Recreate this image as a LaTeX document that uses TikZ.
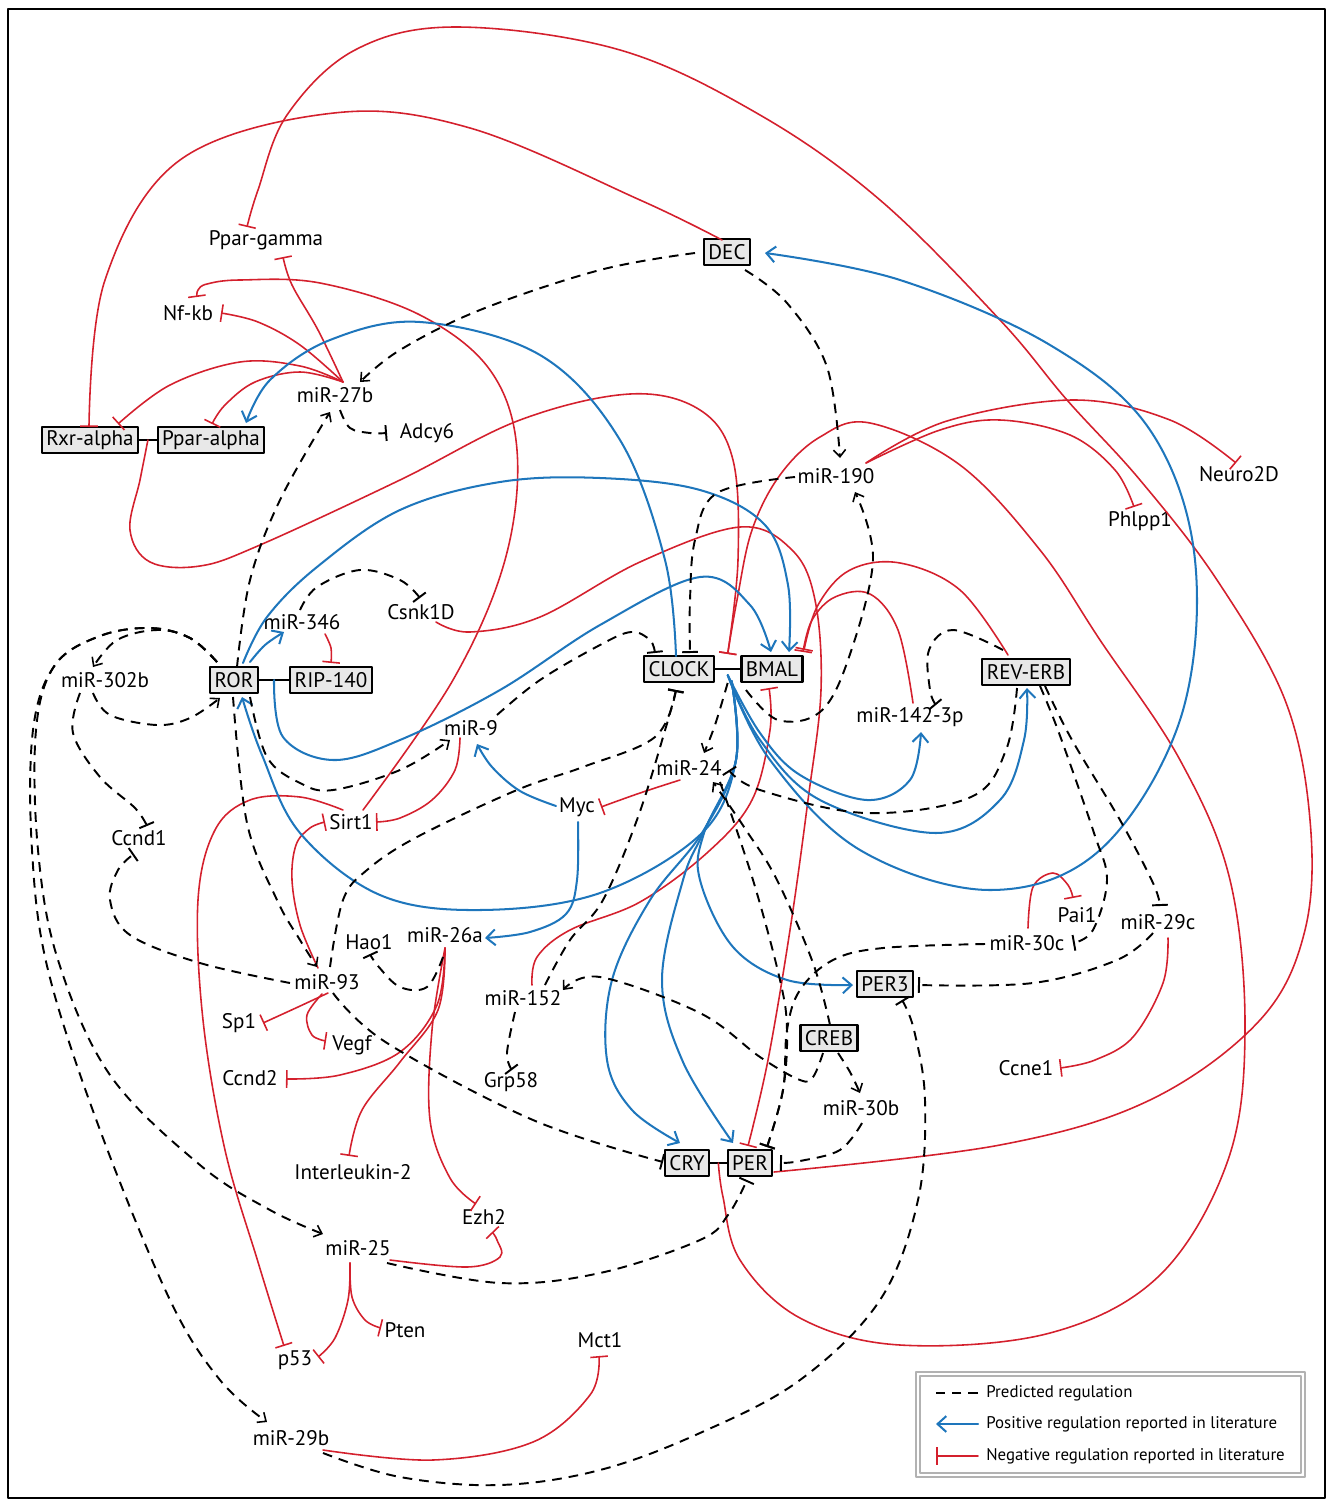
\documentclass[tikz,border=0pt]{standalone}
\usepackage{fontspec}
\setmainfont{PT Sans}
\usepackage{xcolor}
\usetikzlibrary{calc,arrows.meta}
\definecolor{posblue}{RGB}{30,118,188}
\definecolor{negred}{RGB}{212,32,45}
\definecolor{boxgray}{RGB}{232,232,232}

\begin{document}
\begin{tikzpicture}[
    x=0.2mm,y=-0.2mm,
    line cap=round,line join=round,
    every node/.style={font=\fontsize{12}{14}\selectfont, inner sep=1pt},
    gene/.style={draw, fill=boxgray, line width=1.2pt, inner xsep=2.5pt, inner ysep=2pt, minimum height=14.5pt},
    smoothed/.style={smooth, tension=0.6},
    predline/.style={black, line width=1.1pt, line cap=butt, dash pattern=on 5.5pt off 4pt},
    predarr/.style={predline, -{Straight Barb[length=4pt,width=7pt,line width=0.9pt]}},
    predtee/.style={predline, -{Bar[width=9pt,line width=1.1pt]}},
    posreg/.style={posblue, line width=1.15pt, -{Straight Barb[length=5pt,width=9pt]}},
    negreg/.style={negred, line width=0.9pt, -{Bar[width=10pt]}},
    link/.style={black, line width=1.3pt}
  ]
  \useasboundingbox (0,0) rectangle (1327,1500);
  % ---- frame
  \draw[line width=1.3pt] (8,9) rectangle (1325,1498);

  % ---- boxed genes
  \node[gene] (rxra)   at (90,440)   {Rxr-alpha};
  \node[gene] (ppara)  at (211,440)  {Ppar-alpha};
  \node[gene] (dec)    at (727,252)  {DEC};
  \node[gene] (ror)    at (234,680)  {ROR};
  \node[gene] (rip)    at (331,680)  {RIP-140};
  \node[gene] (clock)  at (679,669)  {CLOCK};
  \node[gene] (bmal)   at (772,669)  {BMAL};
  \node[gene] (reverb) at (1026,672) {REV-ERB};
  \node[gene] (per3)   at (885,984)  {PER3};
  \node[gene] (creb)   at (829,1038) {CREB};
  \node[gene] (cry)    at (687,1163) {CRY};
  \node[gene] (per)    at (750,1163) {PER};

  % ---- plain labels (miRNAs and targets)
  \node (pparg)   at (266,240)  {Ppar-gamma};
  \node (nfkb)    at (188,313)  {Nf-kb};
  \node (mir27b)  at (335,395)  {miR-27b};
  \node (adcy6)   at (427,433)  {Adcy6};
  \node (mir190)  at (836,476)  {miR-190};
  \node (neuro)   at (1239,474) {Neuro2D};
  \node (phlpp)   at (1140,521) {Phlpp1};
  \node (csnk)    at (421,612)  {Csnk1D};
  \node (mir346)  at (302,622)  {miR-346};
  \node (mir302b) at (105,680)  {miR-302b};
  \node (mir142)  at (910,717)  {miR-142-3p};
  \node (mir9)    at (471,728)  {miR-9};
  \node (mir24)   at (689,768)  {miR-24};
  \node (myc)     at (577,807)  {Myc};
  \node (sirt)    at (351,822)  {Sirt1};
  \node (ccnd1)   at (139,838)  {Ccnd1};
  \node (pai)     at (1077,915) {Pai1};
  \node (mir29c)  at (1158,922) {miR-29c};
  \node (mir30c)  at (1027,943) {miR-30c};
  \node (hao)     at (369,942)  {Hao1};
  \node (mir26a)  at (445,935)  {miR-26a};
  \node (mir93)   at (327,982)  {miR-93};
  \node (mir152)  at (523,998)  {miR-152};
  \node (sp1)     at (239,1023) {Sp1};
  \node (vegf)    at (352,1045) {Vegf};
  \node (ccnd2)   at (250,1078) {Ccnd2};
  \node (grp)     at (511,1082) {Grp58};
  \node (ccne)    at (1026,1068) {Ccne1};
  \node (mir30b)  at (861,1108) {miR-30b};
  \node (il2)     at (353,1172) {Interleukin-2};
  \node (ezh)     at (484,1217) {Ezh2};
  \node (mir25)   at (358,1248) {miR-25};
  \node (pten)    at (405,1330) {Pten};
  \node (p53)     at (295,1360) {p53};
  \node (mct)     at (600,1340) {Mct1};
  \node (mir29b)  at (291,1438) {miR-29b};

  % ---- complexes
  \draw[link] (rxra.east) -- (ppara.west);
  \draw[link] (ror.east) -- (rip.west);
  \draw[link] (clock.east) -- (bmal.west);
  \draw[link] (cry.east) -- (per.west);

  % ---- negative regulation (literature)
  \draw[negreg] plot[smoothed] coordinates {($(dec)+(-5,-12)$) (640,200) (470,128) (334,113) (180,160) (105,280) ($(rxra)+(-1,-13)$)};
  \draw[negreg] plot[smoothed] coordinates {($(per)+(24,9)$) (1000,1145) (1150,1100) (1260,1020) (1305,930) (1310,820) (1285,700) (1217,580) (1140,480) (1067,400) (1000,320) (880,200) (760,115) (620,50) (456,27) (355,50) (287,115) (258,190) ($(pparg)+(-19,-13)$)};
  \draw[negreg] plot[smoothed] coordinates {($(cry.east)!0.5!(per.west)$) (723,1197) (740,1260) (800,1318) (900,1345) (1050,1333) (1160,1275) (1228,1160) (1245,1030) (1230,880) (1180,760) (1100,640) (1040,550) (960,465) (870,423) (820,437) (780,475) (752,530) (737,600) ($(clock.east)!0.5!(bmal.west)+(0,-15)$)};
  \draw[negreg] plot[smoothed] coordinates {($(rxra.east)!0.5!(ppara.west)$) (140,480) (130,530) (150,562) (200,566) (260,545) (400,480) (520,420) (630,394) (700,410) (733,460) (738,560) ($(clock.east)!0.5!(bmal.west)+(0,-15)$)};
  \draw[negreg] plot[smoothed] coordinates {($(mir142)+(3,-14)$) (898,630) (870,594) (835,597) (812,620) ($(bmal)+(31,-17)$)};
  \draw[negreg] plot[smoothed] coordinates {($(reverb)+(-18,-17)$) (960,590) (900,563) (850,570) (818,605) ($(bmal)+(32,-19)$)};
  \draw[negreg] plot[smoothed] coordinates {($(csnk)+(15,10)$) (470,632) (540,617) (640,562) (740,527) (792,550) (815,600) (821,690) (808,800) (790,930) (768,1060) ($(per)+(-2,-17)$)};
  \draw[negreg] plot[smoothed] coordinates {($(mir152)+(9,-13)$) (537,957) (570,930) (640,902) (708,852) (752,800) (770,730) ($(bmal)+(-3,19)$)};
  \draw[negreg] plot[smoothed] coordinates {($(mir27b)+(8,-13)$) (318,330) (292,285) ($(pparg)+(17,17)$)};
  \draw[negreg] plot[smoothed] coordinates {($(mir27b)+(8,-13)$) (300,345) (258,322) ($(nfkb)+(33,0)$)};
  \draw[negreg] plot[smoothed] coordinates {($(mir27b)+(8,-13)$) (300,366) (240,362) (170,385) ($(rxra)+(28,-16)$)};
  \draw[negreg] plot[smoothed] coordinates {($(mir27b)+(8,-13)$) (300,372) (255,382) (225,405) ($(ppara)+(1,-16)$)};
  \draw[negreg] plot[smoothed] coordinates {($(sirt)+(12,-12)$) (453,680) (505,560) (517,450) (490,370) (420,315) (320,283) (240,280) (207,284) (198,290) ($(nfkb)+(9,-16)$)};
  \draw[negreg] plot[smoothed] coordinates {($(mir9)+(-11,10)$) (455,770) (432,800) (400,818) ($(sirt)+(25,0)$)};
  \draw[negreg] plot[smoothed] coordinates {($(mir24)+(-9,12)$) (640,793) ($(myc)+(24,0)$)};
  \draw[negreg] plot[smoothed] coordinates {($(sirt)+(-8,-12)$) (300,797) (250,800) (215,830) (198,900) (203,1020) (225,1150) (258,1262) ($(p53)+(-11,-14)$)};
  \draw[negreg] plot[smoothed] coordinates {($(mir93)+(-9,-14)$) (300,925) (292,880) (296,845) (310,828) ($(sirt)+(-26,0)$)};
  \draw[negreg] plot[smoothed] coordinates {($(mir93)+(1,11)$) (298,1007) ($(sp1)+(24,0)$)};
  \draw[negreg] plot[smoothed] coordinates {($(mir93)+(-5,12)$) (307,1015) (312,1035) ($(vegf)+(-26,-4)$)};
  \draw[negreg] plot[smoothed] coordinates {($(mir26a)+(0,13)$) (437,1005) (400,1052) (340,1075) ($(ccnd2)+(36,1)$)};
  \draw[negreg] plot[smoothed] coordinates {($(mir26a)+(0,13)$) (438,1010) (400,1062) (362,1110) ($(il2)+(-4,-16)$)};
  \draw[negreg] plot[smoothed] coordinates {($(mir26a)+(0,13)$) (432,1030) (430,1120) (450,1178) ($(ezh)+(-8,-13)$)};
  \draw[negreg] plot[smoothed] coordinates {($(mir25)+(32,12)$) (467,1267) (500,1257) (497,1240) ($(ezh)+(8,15)$)};
  \draw[negreg] plot[smoothed] coordinates {($(mir25)+(-8,15)$) (352,1297) (365,1320) ($(pten)+(-24,-2)$)};
  \draw[negreg] plot[smoothed] coordinates {($(mir25)+(-8,15)$) (348,1300) (335,1338) ($(p53)+(23,-3)$)};
  \draw[negreg] plot[smoothed] coordinates {($(mir29b)+(32,12)$) (433,1460) (533,1442) (590,1395) ($(mct)+(-1,16)$)};
  \draw[negreg] plot[smoothed] coordinates {($(mir30c)+(1,-15)$) (1033,887) (1053,873) (1068,885) ($(pai)+(-4,-17)$)};
  \draw[negreg] plot[smoothed] coordinates {($(mir29c)+(10,16)$) (1163,983) (1133,1037) (1095,1060) ($(ccne)+(34,0)$)};
  \draw[negreg] plot[smoothed] coordinates {($(mir346)+(23,12)$) (331,648) ($(rip)+(0,-17)$)};
  \draw[negreg] plot[smoothed] coordinates {($(mir190)+(30,-13)$) (947,421) (1073,400) (1170,420) ($(neuro)+(-3,-11)$)};
  \draw[negreg] plot[smoothed] coordinates {($(mir190)+(30,-13)$) (940,430) (1000,420) (1070,435) (1115,470) ($(phlpp)+(-6,-14)$)};

  % ---- positive regulation (literature)
  \draw[posreg] plot[smoothed] coordinates {($(clock)+(-3,-13)$) (665,560) (620,440) (540,355) (420,322) (330,340) (270,380) ($(ppara)+(35,-17)$)};
  \draw[posreg] plot[smoothed] coordinates {($(ror)+(9,-17)$) (267,617) (317,567) (400,510) (500,482) (600,478) (700,490) (765,525) (788,585) ($(bmal)+(17,-17)$)};
  \draw[posreg] plot[smoothed] coordinates {($(ror.east)!0.5!(rip.west)$) (283,737) (333,760) (400,740) (500,690) (600,625) (700,577) (750,605) ($(bmal)+(-1,-17)$)};
  \draw[posreg] plot[smoothed] coordinates {($(ror)+(16,-18)$) (265,645) ($(mir346)+(-18,10)$)};
  \draw[posreg] plot[smoothed] coordinates {($(clock.east)!0.5!(bmal.west)+(4,12)$) (736,760) (702,833) (600,893) (480,910) (380,895) (300,833) (262,755) ($(ror)+(8,17)$)};
  \draw[posreg] plot[smoothed] coordinates {($(clock.east)!0.5!(bmal.west)+(4,12)$) (736,760) (702,833) (650,900) (612,980) (607,1060) (632,1110) ($(cry)+(-7,-20)$)};
  \draw[posreg] plot[smoothed] coordinates {($(clock.east)!0.5!(bmal.west)+(4,12)$) (736,760) (703,833) (683,880) (662,980) (683,1062) ($(per)+(-17,-20)$)};
  \draw[posreg] plot[smoothed] coordinates {($(clock.east)!0.5!(bmal.west)+(4,12)$) (736,760) (704,833) (700,880) (733,947) (787,980) ($(per3)+(-32,1)$)};
  \draw[posreg] plot[smoothed] coordinates {($(clock.east)!0.5!(bmal.west)+(0,6)$) (760,733) (800,775) (867,800) (910,780) ($(mir142)+(11,15)$)};
  \draw[posreg] plot[smoothed] coordinates {($(clock.east)!0.5!(bmal.west)+(0,6)$) (760,740) (820,800) (936,833) (1000,800) (1024,740) ($(reverb)+(1,16)$)};
  \draw[posreg] plot[smoothed] coordinates {($(clock.east)!0.5!(bmal.west)+(0,6)$) (770,760) (860,850) (990,890) (1100,850) (1180,720) (1195,560) (1150,430) (1050,345) (900,280) ($(dec)+(38,1)$)};
  \draw[posreg] plot[smoothed] coordinates {($(myc)+(-21,-1)$) (520,791) (492,767) ($(mir9)+(6,16)$)};
  \draw[posreg] plot[smoothed] coordinates {($(myc)+(1,15)$) (577,880) (566,914) (530,932) ($(mir26a)+(40,3)$)};

  % ---- predicted regulation
  \draw[predarr] plot[smoothed] coordinates {($(dec)+(-32,1)$) (600,270) (480,310) (400,350) ($(mir27b)+(25,-13)$)};
  \draw[predtee] plot[smoothed] coordinates {($(mir27b)+(5,15)$) (350,428) (370,433) ($(adcy6)+(-40,0)$)};
  \draw[predarr] plot[smoothed] coordinates {($(ror)+(3,-13)$) (250,580) (280,500) ($(mir27b)+(-5,17)$)};
  \draw[predarr] plot[smoothed] coordinates {($(dec)+(18,18)$) (787,303) (827,367) ($(mir190)+(4,-18)$)};
  \draw[predtee] plot[smoothed] coordinates {($(mir190)+(-41,1)$) (717,493) (695,540) (690,600) ($(clock)+(11,-16)$)};
  \draw[predarr] plot[smoothed] coordinates {($(bmal)+(-26,21)$) (778,720) (820,712) (848,660) (873,560) ($(mir190)+(19,16)$)};
  \draw[predtee] plot[smoothed] coordinates {($(mir9)+(26,-13)$) (540,680) (600,645) (631,632) (650,640) ($(clock)+(-24,-16)$)};
  \draw[predarr] plot[smoothed] coordinates {($(ror)+(16,17)$) (267,757) (300,783) (333,790) (400,770) ($(mir9)+(-21,12)$)};
  \draw[predarr] plot[smoothed] coordinates {($(ror)+(-17,-18)$) (190,638) (157,630) (117,640) ($(mir302b)+(-12,-13)$)};
  \draw[predarr] plot[smoothed] coordinates {($(mir302b)+(-12,13)$) (110,715) (157,725) (190,718) ($(ror)+(-14,18)$)};
  \draw[predarr] plot[smoothed] coordinates {($(ror)+(-17,-18)$) (190,638) (150,628) (100,636) (55,665) (36,730) (38,850) (58,960) (110,1075) (200,1165) (270,1210) ($(mir25)+(-35,-14)$)};
  \draw[predarr] plot[smoothed] coordinates {($(ror)+(-17,-18)$) (190,638) (150,628) (100,636) (55,665) (33,730) (32,850) (48,970) (100,1130) (170,1300) (220,1380) ($(mir29b)+(-24,-16)$)};
  \draw[predtee] plot[smoothed] coordinates {($(mir302b)+(-25,13)$) (73,733) (100,777) (135,808) ($(ccnd1)+(8,-12)$)};
  \draw[predtee] plot[smoothed] coordinates {($(mir93)+(-37,1)$) (200,963) (130,935) (110,900) (118,870) ($(ccnd1)+(-5,16)$)};
  \draw[predarr] plot[smoothed] coordinates {($(ror)+(-1,17)$) (247,823) (277,900) (300,940) ($(mir93)+(-10,-15)$)};
  \draw[predtee] plot[smoothed] coordinates {($(mir93)+(3,-15)$) (343,900) (367,870) (417,837) (517,790) (583,767) (655,737) ($(clock)+(-3,21)$)};
  \draw[predtee] plot[smoothed] coordinates {($(mir152)+(22,-13)$) (570,940) (603,900) (638,817) (666,727) ($(clock)+(-3,21)$)};
  \draw[predtee] plot[smoothed] coordinates {($(mir93)+(6,11)$) (387,1043) (533,1120) ($(cry)+(-24,-1)$)};
  \draw[predarr] plot[smoothed] coordinates {($(clock.east)!0.5!(bmal.west)+(0,14)$) (715,725) ($(mir24)+(15,-15)$)};
  \draw[predtee] plot[smoothed] coordinates {($(reverb)+(-9,16)$) (1006,750) (971,797) (866,813) (760,790) ($(mir24)+(40,2)$)};
  \draw[predarr] plot[smoothed] coordinates {($(creb)+(1,-13)$) (813,963) (777,880) (746,830) ($(mir24)+(24,14)$)};
  \draw[predtee] plot[smoothed] coordinates {($(mir24)+(31,14)$) (753,880) (780,980) (787,1030) (783,1090) ($(per)+(17,-16)$)};
  \draw[predtee] plot[smoothed] coordinates {($(mir30c)+(-42,1)$) (883,948) (833,960) (800,990) (787,1030) (783,1090) ($(per)+(17,-16)$)};
  \draw[predarr] plot[smoothed] coordinates {($(creb)+(9,15)$) (850,1072) ($(mir30b)+(-1,-15)$)};
  \draw[predarr] plot[smoothed] coordinates {($(creb)+(-6,15)$) (813,1077) (800,1080) (760,1057) (700,1013) (600,977) ($(mir152)+(40,-8)$)};
  \draw[predtee] plot[smoothed] coordinates {($(mir30b)+(1,15)$) (840,1150) (800,1161) ($(per)+(30,0)$)};
  \draw[predtee] plot[smoothed] coordinates {($(mir29b)+(32,15)$) (400,1477) (500,1485) (600,1470) (700,1433) (800,1380) (880,1300) (918,1200) (925,1100) (914,1030) ($(per3)+(17,16)$)};
  \draw[predtee] plot[smoothed] coordinates {($(mir25)+(29,15)$) (500,1283) (600,1273) (700,1240) (728,1215) ($(per)+(-3,17)$)};
  \draw[predtee] plot[smoothed] coordinates {($(mir29c)+(-5,11)$) (1117,960) (1033,983) ($(per3)+(33,1)$)};
  \draw[predtee] plot[smoothed] coordinates {($(reverb)+(14,14)$) (1059,733) (1094,833) (1107,880) (1093,930) ($(mir30c)+(46,0)$)};
  \draw[predtee] plot[smoothed] coordinates {($(reverb)+(19,14)$) (1072,740) (1120,820) (1153,883) ($(mir29c)+(2,-16)$)};
  \draw[predtee] plot[smoothed] coordinates {($(reverb)+(-23,-22)$) (953,630) (929,650) (930,690) ($(mir142)+(26,-12)$)};
  \draw[predtee] plot[smoothed] coordinates {($(mir346)+(-2,-12)$) (317,587) (360,570) (400,580) ($(csnk)+(-1,-14)$)};
  \draw[predtee] plot[smoothed] coordinates {($(mir26a)+(-2,22)$) (427,987) (400,987) (378,966) ($(hao)+(1,12)$)};
  \draw[predtee] plot[smoothed] coordinates {($(mir152)+(-8,14)$) (507,1053) ($(grp)+(1,-12)$)};

  % ---- legend
  \draw[gray!60, line width=0.6pt] (916,1372) rectangle (1305,1477);
  \draw[gray!60, line width=0.6pt] (920,1376) rectangle (1301,1473);
  \begin{scope}[every node/.style={font=\fontsize{9.6}{11}\selectfont, inner sep=0pt, anchor=west}]
    \node (legpred) at (986,1393) {Predicted regulation};
    \node (legpos)  at (986,1424) {Positive regulation reported in literature};
    \node (legneg)  at (986,1456) {Negative regulation reported in literature};
  \end{scope}
  \coordinate (legpredA) at (936,1393);
  \coordinate (legposA)  at (936,1424);
  \coordinate (legnegA)  at (936,1456);
  \draw[predline] ($(legpred.west)+(-8,0)$) -- (legpredA);
  \draw[posreg] ($(legpos.west)+(-8,0)$) -- (legposA);
  \draw[negreg] ($(legneg.west)+(-8,0)$) -- (legnegA);
\end{tikzpicture}
\end{document}
